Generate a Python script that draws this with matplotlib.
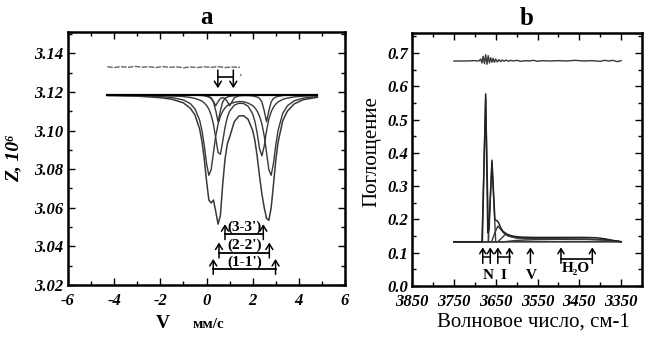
import matplotlib
matplotlib.use('Agg')
import matplotlib.pyplot as plt
from matplotlib.ticker import MultipleLocator, FixedLocator, FormatStrFormatter

# ---------------- Panel a : Mössbauer spectrum ----------------
v_grid = [-4.3, -3.0, -2.0, -1.5, -1.0, -0.7, -0.5, -0.3, -0.2, -0.1, 0.0, 0.1, 0.2, 0.3,
          0.4, 0.5, 0.6, 0.7, 0.8, 0.9, 1.0, 1.2, 1.4, 1.6, 1.8, 2.0, 2.1, 2.2, 2.3, 2.4,
          2.5, 2.6, 2.7, 2.8, 2.9, 3.0, 3.1, 3.3, 3.5, 3.8, 4.2, 4.8]

z_envelope = [3.1181, 3.1178, 3.1170, 3.1162, 3.1143, 3.1115, 3.1080, 3.1008, 3.0945, 3.0855,
              3.0740, 3.0640, 3.0625, 3.0640, 3.0580, 3.0515, 3.0560, 3.0720, 3.0850, 3.0930,
              3.0965, 3.1045, 3.1075, 3.1077, 3.1058, 3.1000, 3.0945, 3.0860, 3.0760, 3.0670,
              3.0600, 3.0545, 3.0535, 3.0600, 3.0720, 3.0845, 3.0940, 3.1050, 3.1100, 3.1138,
              3.1160, 3.1172]

z_doublet1 = [3.1183, 3.1181, 3.1176, 3.1171, 3.1158, 3.1139, 3.1112, 3.1054, 3.1001, 3.0924,
              3.0830, 3.0768, 3.0797, 3.0886, 3.0972, 3.1033, 3.1073, 3.1099, 3.1117, 3.1129,
              3.1137, 3.1146, 3.1150, 3.1149, 3.1142, 3.1129, 3.1117, 3.1099, 3.1073, 3.1033,
              3.0972, 3.0886, 3.0797, 3.0768, 3.0830, 3.0924, 3.1001, 3.1088, 3.1128, 3.1154,
              3.1168, 3.1176]

z_doublet2 = [3.1184, 3.1183, 3.1181, 3.1179, 3.1176, 3.1171, 3.1166, 3.1158, 3.1152, 3.1143,
              3.1130, 3.1111, 3.1080, 3.1032, 3.0960, 3.0886, 3.0877, 3.0943, 3.1016, 3.1068,
              3.1100, 3.1131, 3.1141, 3.1140, 3.1126, 3.1086, 3.1045, 3.0981, 3.0904, 3.0869,
              3.0920, 3.0999, 3.1059, 3.1097, 3.1121, 3.1137, 3.1148, 3.1161, 3.1168, 3.1174,
              3.1178, 3.1181]

z_doublet3 = [3.1185, 3.1185, 3.1185, 3.1184, 3.1184, 3.1183, 3.1183, 3.1182, 3.1181, 3.1180,
              3.1177, 3.1173, 3.1166, 3.1148, 3.1102, 3.1045, 3.1102, 3.1148, 3.1166, 3.1173,
              3.1177, 3.1180, 3.1181, 3.1181, 3.1181, 3.1179, 3.1176, 3.1173, 3.1166, 3.1148,
              3.1102, 3.1045, 3.1102, 3.1148, 3.1166, 3.1173, 3.1177, 3.1181, 3.1183, 3.1184,
              3.1185, 3.1185]

z_doublet4 = [3.1185, 3.1185, 3.1185, 3.1185, 3.1184, 3.1184, 3.1184, 3.1183, 3.1183, 3.1182,
              3.1180, 3.1176, 3.1169, 3.1151, 3.1128, 3.1150, 3.1166, 3.1170, 3.1166, 3.1150,
              3.1128, 3.1169, 3.1180, 3.1183, 3.1184, 3.1185, 3.1185, 3.1185, 3.1185, 3.1185,
              3.1185, 3.1185, 3.1185, 3.1185, 3.1185, 3.1185, 3.1185, 3.1185, 3.1185, 3.1185,
              3.1185, 3.1185]

base_v = [-4.3, 4.8]
base_z = [3.1185, 3.1185]

resid_v = [-4.3, -4.0, -3.7, -3.4, -3.1, -2.8, -2.5, -2.2, -1.9, -1.6, -1.3, -1.0, -0.7,
           -0.4, -0.1, 0.2, 0.5, 0.8, 1.1, 1.45]
resid_z = [3.1330, 3.1326, 3.1331, 3.1327, 3.1332, 3.1328, 3.1330, 3.1326, 3.1331, 3.1327,
           3.1330, 3.1325, 3.1329, 3.1326, 3.1330, 3.1327, 3.1331, 3.1326, 3.1329, 3.1327]

pair_labels = ["(1-1')", "(2-2')", "(3-3')"]
pair_left = [0.29, 0.54, 0.80]
pair_right = [2.99, 2.72, 2.46]
pair_bar = [3.0282, 3.0367, 3.0462]
small_pair = [0.49, 1.16]

a_xticks = [-6, -4, -2, 0, 2, 4, 6]
a_yticks = [3.02, 3.04, 3.06, 3.08, 3.10, 3.12, 3.14]

# ---------------- Panel b : IR spectrum ----------------
ir_total_x = [3750, 3700, 3682, 3674, 3669, 3666, 3659, 3652, 3646, 3643, 3638, 3633, 3628,
              3622, 3615, 3605, 3590, 3560, 3500, 3440, 3410, 3390, 3370, 3350]
ir_total_y = [0.133, 0.133, 0.133, 0.577, 0.160, 0.170, 0.378, 0.200, 0.195, 0.190, 0.175,
              0.165, 0.160, 0.155, 0.152, 0.149, 0.147, 0.146, 0.146, 0.146, 0.145, 0.142,
              0.137, 0.133]

ir_c1_x = [3750, 3683, 3674, 3667, 3350]
ir_c1_y = [0.133, 0.133, 0.565, 0.133, 0.133]
ir_c2_x = [3750, 3668, 3659, 3650, 3350]
ir_c2_y = [0.133, 0.133, 0.370, 0.133, 0.133]
ir_c3_x = [3750, 3660, 3652, 3645, 3638, 3630, 3620, 3600, 3560, 3500, 3440, 3400, 3370, 3350]
ir_c3_y = [0.133, 0.133, 0.160, 0.180, 0.170, 0.158, 0.150, 0.145, 0.143, 0.142, 0.141,
           0.139, 0.136, 0.133]
ir_c4_x = [3750, 3645, 3635, 3627, 3618, 3605, 3580, 3540, 3480, 3420, 3390, 3365, 3350]
ir_c4_y = [0.133, 0.133, 0.145, 0.155, 0.150, 0.145, 0.142, 0.141, 0.140, 0.140, 0.139,
           0.136, 0.133]
ir_c5_x = [3750, 3630, 3600, 3560, 3500, 3440, 3400, 3375, 3350]
ir_c5_y = [0.133, 0.133, 0.137, 0.139, 0.140, 0.140, 0.139, 0.136, 0.133]

ir_resid_x = [3750, 3720, 3700, 3690, 3686, 3683, 3680, 3677, 3674, 3671, 3668, 3665, 3662,
              3659, 3656, 3653, 3650, 3646, 3642, 3638, 3634, 3630, 3625, 3620, 3614, 3608,
              3600, 3590, 3580, 3570, 3560, 3550, 3540, 3520, 3500, 3480, 3460, 3440, 3420,
              3400, 3390, 3380, 3370, 3360, 3350]
ir_resid_y = [0.676, 0.676, 0.677, 0.676, 0.682, 0.670, 0.690, 0.668, 0.695, 0.666, 0.692,
              0.670, 0.686, 0.672, 0.684, 0.672, 0.682, 0.673, 0.680, 0.674, 0.679, 0.675,
              0.679, 0.675, 0.678, 0.676, 0.678, 0.675, 0.677, 0.676, 0.678, 0.675, 0.677,
              0.676, 0.677, 0.676, 0.678, 0.676, 0.677, 0.675, 0.678, 0.676, 0.678, 0.674,
              0.677]

band_arrow_x = [3681, 3663, 3645, 3617, 3567, 3494, 3419]
band_labels = ["N", "I", "V", "H\u2082O"]
band_label_x = [3667, 3631, 3566, 3459]
bracket_pairs = [(3681, 3663), (3645, 3617)]
h2o_pair = (3494, 3419)

b_xticks = [3850, 3750, 3650, 3550, 3450, 3350]
b_xminor = [3800, 3700, 3600, 3500, 3400]
b_yticks = [0.0, 0.1, 0.2, 0.3, 0.4, 0.5, 0.6, 0.7]

# ---------------- drawing ----------------
plt.rcParams['font.family'] = ['Liberation Serif', 'DejaVu Serif']
plt.rcParams['axes.unicode_minus'] = False

fig = plt.figure(figsize=(6.51, 3.37), dpi=100)
axa = fig.add_axes([0.1045, 0.1543, 0.4255, 0.7507])
axb = fig.add_axes([0.633, 0.1513, 0.3533, 0.7507])

LC = '#383838'
tickfont = dict(family=['Liberation Serif', 'DejaVu Serif'], weight='bold', style='italic', size=12)


def style_axes(ax):
    for s in ax.spines.values():
        s.set_linewidth(1.8)
    ax.tick_params(which='both', direction='in', top=True, right=True, width=1.0)
    ax.tick_params(which='major', length=5)
    ax.tick_params(which='minor', length=3)
    for lab in ax.get_xticklabels() + ax.get_yticklabels():
        lab.set_fontproperties(tickfont)


def arrow(ax, x, y0, y1, hw=0.25, hl=0.4):
    ax.annotate('', xy=(x, y1), xytext=(x, y0),
                arrowprops=dict(arrowstyle='->,head_length=%g,head_width=%g' % (hl, hw),
                                lw=1.1, color='black', shrinkA=0, shrinkB=0))


# Panel a
axa.plot(resid_v, resid_z, color='#666666', lw=1.0, ls=(0, (4, 1)))
for zc in (z_doublet4, z_doublet3, z_doublet2, z_doublet1):
    axa.plot(v_grid, zc, color=LC, lw=1.0)
axa.plot(v_grid, z_envelope, color=LC, lw=1.1)
axa.plot(base_v, base_z, color='black', lw=1.6)

for lab, xl, xr, yb in zip(pair_labels, pair_left, pair_right, pair_bar):
    axa.plot([xl, xr], [yb, yb], color='black', lw=1.3)
    arrow(axa, xl, yb - 0.0027, yb + 0.0053)
    arrow(axa, xr, yb - 0.0027, yb + 0.0053)
    axa.text((xl + xr) / 2, yb + 0.0002, lab, ha='center', va='bottom',
             fontsize=11, fontweight='bold')

axa.plot(small_pair, [3.1279, 3.1279], color='black', lw=1.2)
for xs in small_pair:
    arrow(axa, xs, 3.1313, 3.1219)
axa.text(small_pair[1] + 0.33, 3.1272, "'", ha='center', va='center', fontsize=7)

axa.set_xlim(-6, 6)
axa.set_ylim(3.02, 3.151)
axa.xaxis.set_major_locator(FixedLocator(a_xticks))
axa.xaxis.set_minor_locator(MultipleLocator(1))
axa.yaxis.set_major_locator(FixedLocator(a_yticks))
axa.yaxis.set_minor_locator(MultipleLocator(0.01))
axa.xaxis.set_major_formatter(FormatStrFormatter('%d'))
axa.yaxis.set_major_formatter(FormatStrFormatter('%.2f'))
axa.tick_params(axis='x', pad=6)
axa.tick_params(axis='y', pad=3)
style_axes(axa)
axa.set_title('a', fontsize=18, fontweight='bold', pad=6)

# Panel b
axb.plot(ir_resid_x, ir_resid_y, color=LC, lw=1.0)
for xs, ys in ((ir_c5_x, ir_c5_y), (ir_c4_x, ir_c4_y), (ir_c3_x, ir_c3_y),
               (ir_c2_x, ir_c2_y), (ir_c1_x, ir_c1_y)):
    axb.plot(xs, ys, color=LC, lw=1.0)
axb.plot(ir_total_x, ir_total_y, color='#222222', lw=1.1)

for xa in band_arrow_x:
    arrow(axb, xa, 0.068, 0.116, hw=0.22, hl=0.35)
for xl, xr in bracket_pairs:
    axb.plot([xl, xr], [0.088, 0.088], color='black', lw=1.1)
axb.plot(list(h2o_pair), [0.080, 0.080], color='black', lw=1.2)
for lab, xt in zip(band_labels, band_label_x):
    yt = 0.053 if lab.startswith('H') else 0.033
    axb.text(xt, yt, lab, ha='center', va='center', fontsize=11, fontweight='bold')

axb.set_xlim(3850, 3300)
axb.set_ylim(0, 0.76)
axb.xaxis.set_major_locator(FixedLocator(b_xticks))
axb.xaxis.set_minor_locator(FixedLocator(b_xminor))
axb.yaxis.set_major_locator(FixedLocator(b_yticks))
axb.yaxis.set_minor_locator(MultipleLocator(0.05))
axb.xaxis.set_major_formatter(FormatStrFormatter('%d'))
axb.yaxis.set_major_formatter(FormatStrFormatter('%.1f'))
axb.tick_params(axis='x', pad=6)
axb.tick_params(axis='y', pad=3)
style_axes(axb)
axb.set_title('b', fontsize=18, fontweight='bold', pad=6)

# axis labels
fig.text(0.021, 0.53, 'Z, 10\u2076', rotation=90, ha='center', va='center',
         fontsize=14, fontweight='bold', style='italic')
fig.text(0.250, 0.028, 'V', ha='center', va='baseline', fontsize=14, fontweight='bold')
fig.text(0.320, 0.028, '\u043c\u043c/\u0441', ha='center', va='baseline', fontsize=11, fontweight='bold')
fig.text(0.571, 0.549, '\u041f\u043e\u0433\u043b\u043e\u0449\u0435\u043d\u0438\u0435', rotation=90,
         ha='center', va='center', fontsize=15)
fig.text(0.819, 0.045, '\u0412\u043e\u043b\u043d\u043e\u0432\u043e\u0435 \u0447\u0438\u0441\u043b\u043e, \u0441\u043c-1',
         ha='center', va='center', fontsize=15)

fig.savefig('out.png', dpi=100)
